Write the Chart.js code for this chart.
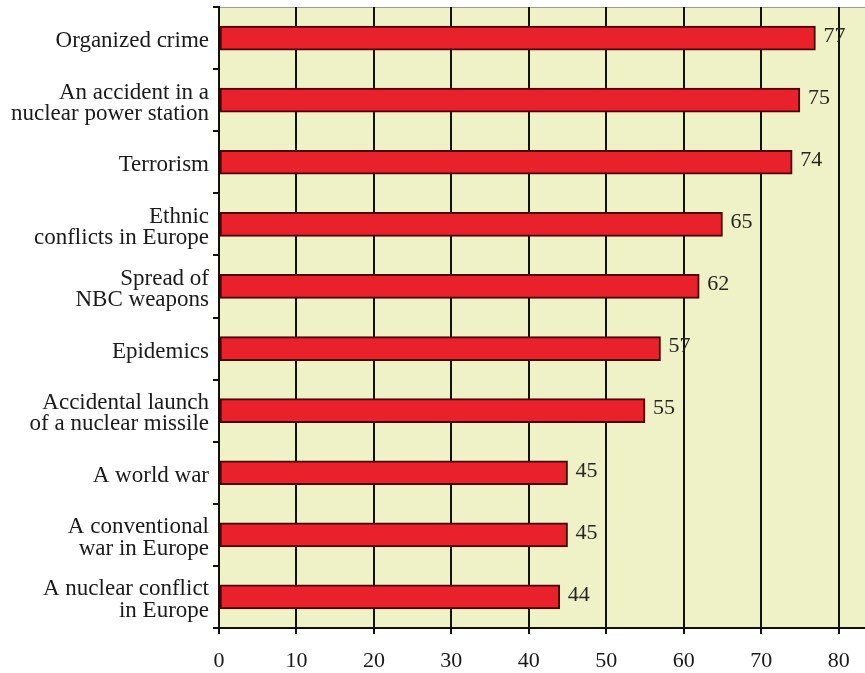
<!DOCTYPE html>
<html>
<head>
<meta charset="utf-8">
<script src="https://cdn.jsdelivr.net/npm/chart.js@4/dist/chart.umd.min.js"></script>
<style>
  html, body { margin: 0; padding: 0; background: #ffffff; }
  #wrap { width: 865px; height: 673px; }
</style>
</head>
<body>
<div id="wrap"><canvas id="c" width="865" height="673"></canvas></div>
<script>
// Perceived threats, share of respondents (%)
const categories = [
  ["Organized crime"],
  ["An accident in a", "nuclear power station"],
  ["Terrorism"],
  ["Ethnic", "conflicts in Europe"],
  ["Spread of", "NBC weapons"],
  ["Epidemics"],
  ["Accidental launch", "of a nuclear missile"],
  ["A world war"],
  ["A conventional", "war in Europe"],
  ["A nuclear conflict", "in Europe"]
];
const values = [77, 75, 74, 65, 62, 57, 55, 45, 45, 44];
const xTicks = [0, 10, 20, 30, 40, 50, 60, 70, 80];

const SERIF = '"Liberation Serif", "DejaVu Serif", serif';

// Fill the plot area with a pale yellow background
const plotBackground = {
  id: 'plotBackground',
  beforeDraw(chart) {
    const { ctx, chartArea: a } = chart;
    ctx.save();
    ctx.fillStyle = '#eff2c7';
    ctx.fillRect(a.left, a.top, a.right - a.left, a.bottom - a.top);
    ctx.strokeStyle = '#9a9a9a';
    ctx.lineWidth = 1;
    ctx.beginPath();
    ctx.moveTo(a.left, a.top + 0.5);
    ctx.lineTo(a.right, a.top + 0.5);
    ctx.stroke();
    ctx.restore();
  }
};

// Write each value just past the end of its bar
const valueLabels = {
  id: 'valueLabels',
  afterDatasetsDraw(chart) {
    const { ctx } = chart;
    const meta = chart.getDatasetMeta(0);
    ctx.save();
    ctx.font = '22px ' + SERIF;
    ctx.fillStyle = '#262626';
    ctx.textAlign = 'left';
    ctx.textBaseline = 'middle';
    meta.data.forEach((bar, i) => {
      ctx.fillText(String(values[i]), bar.x + 8, bar.y - 2);
    });
    ctx.restore();
  }
};

new Chart(document.getElementById('c'), {
  type: 'bar',
  data: {
    labels: categories,
    datasets: [{
      data: values,
      backgroundColor: '#e8212a',
      borderColor: '#4a0606',
      borderWidth: 2,
      borderSkipped: false,
      barThickness: 24
    }]
  },
  plugins: [plotBackground, valueLabels],
  options: {
    indexAxis: 'y',
    responsive: false,
    animation: false,
    layout: { padding: { top: 7, right: 0, left: 0, bottom: 0 } },
    plugins: {
      legend: { display: false },
      tooltip: { enabled: false }
    },
    scales: {
      x: {
        type: 'linear',
        min: 0,
        max: 83.4,
        afterBuildTicks(scale) {
          scale.ticks = xTicks.map(v => ({ value: v }));
        },
        afterFit(scale) {
          scale.height = 45;
          scale.paddingLeft = 0;
          scale.paddingRight = 0;
        },
        border: { display: true, color: '#111111', width: 2 },
        grid: {
          color: '#111111',
          lineWidth: 2,
          drawTicks: true,
          tickLength: 6,
          tickColor: '#111111'
        },
        ticks: {
          color: '#1a1a1a',
          font: { family: SERIF, size: 22 },
          padding: 14,
          maxRotation: 0
        }
      },
      y: {
        type: 'category',
        afterFit(scale) {
          scale.width = 219;
          scale.paddingTop = 0;
          scale.paddingBottom = 0;
        },
        border: { display: true, color: '#111111', width: 2 },
        grid: {
          offset: true,
          drawOnChartArea: false,
          drawTicks: true,
          tickLength: 6,
          tickColor: '#111111',
          lineWidth: 2
        },
        ticks: {
          color: '#1a1a1a',
          font: { family: SERIF, size: 23, lineHeight: 0.93 },
          padding: 4,
          labelOffset: 3,
          autoSkip: false
        }
      }
    }
  }
});
</script>
</body>
</html>
